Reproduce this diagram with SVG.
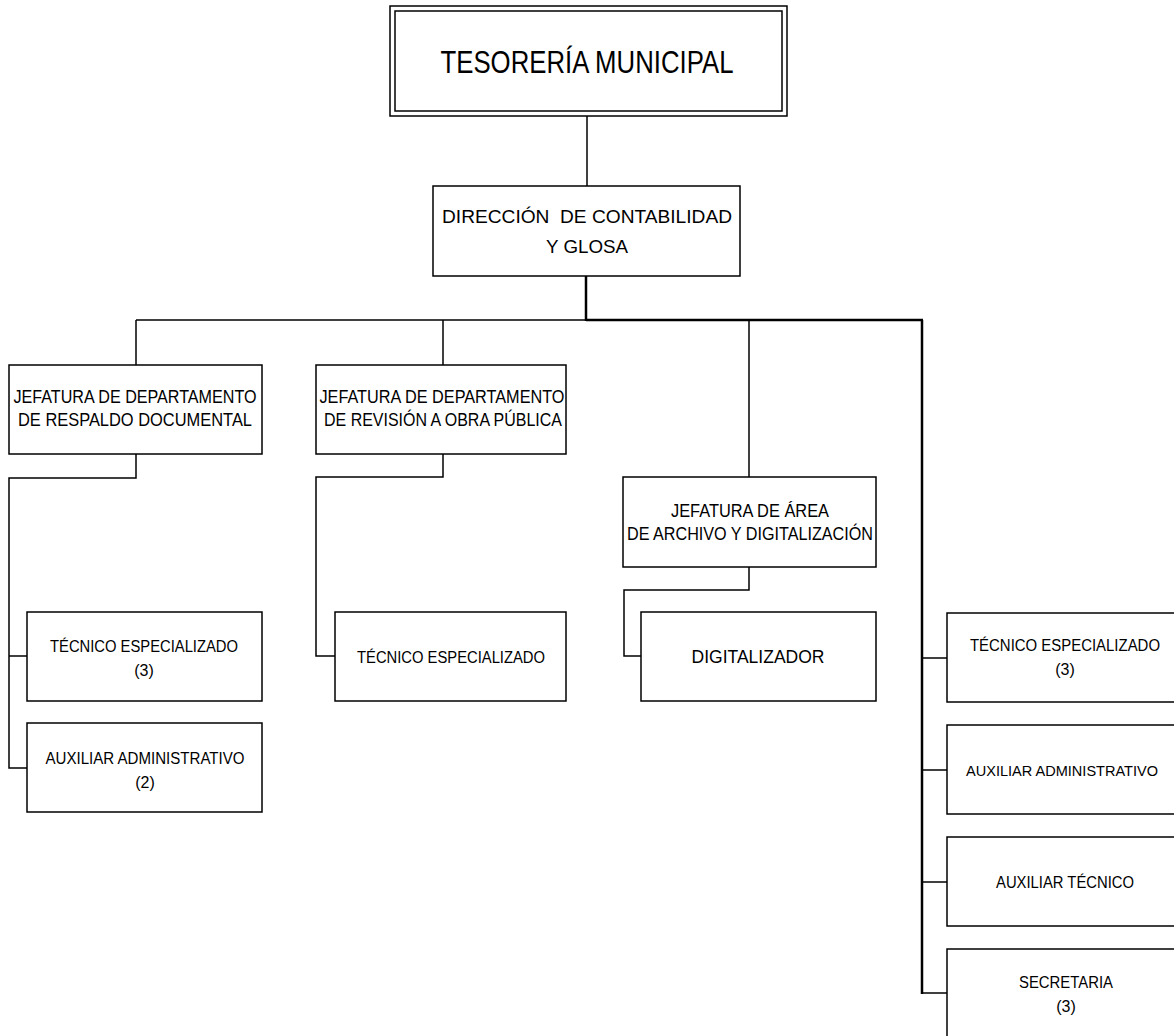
<svg xmlns="http://www.w3.org/2000/svg" width="1174" height="1036" viewBox="0 0 1174 1036">
  <style>
    .box { fill: #ffffff; stroke: #000000; stroke-width: 1.5; }
    .ln { fill: none; stroke: #000000; stroke-width: 1.5; }
    .lnb { fill: none; stroke: #000000; stroke-width: 2.5; }
    text { font-family: "Liberation Sans", Arial, sans-serif; fill: #000000; text-anchor: middle; }
    .t1 { font-size: 32px; }
    .t2 { font-size: 19px; }
    .t3 { font-size: 18px; }
    .t4 { font-size: 16px; }
  </style>

  <rect width="1174" height="1036" fill="#ffffff"/>

  <!-- connectors -->
  <g id="connectors">
    <line class="ln" x1="587" y1="116" x2="587" y2="186"/>
    <line class="lnb" x1="586" y1="276" x2="586" y2="321"/>
    <line class="ln" x1="136" y1="320" x2="586" y2="320"/>
    <line class="lnb" x1="586" y1="320" x2="923" y2="320"/>
    <line class="ln" x1="136" y1="320" x2="136" y2="365"/>
    <line class="ln" x1="443" y1="320" x2="443" y2="365"/>
    <line class="ln" x1="749" y1="320" x2="749" y2="477"/>
    <line class="lnb" x1="922" y1="320" x2="922" y2="994"/>
    <!-- respaldo documental -->
    <polyline class="ln" points="136,454 136,478 9,478 9,768 27,768"/>
    <line class="ln" x1="9" y1="656" x2="27" y2="656"/>
    <!-- revisión a obra pública -->
    <polyline class="ln" points="443,454 443,477 316,477 316,656 335,656"/>
    <!-- archivo y digitalización -->
    <polyline class="ln" points="749,567 749,590 624,590 624,656 641,656"/>
    <!-- direct staff -->
    <line class="ln" x1="922" y1="658" x2="947" y2="658"/>
    <line class="ln" x1="922" y1="770" x2="947" y2="770"/>
    <line class="ln" x1="922" y1="882" x2="947" y2="882"/>
    <line class="ln" x1="922" y1="993" x2="947" y2="993"/>
  </g>

  <g id="tesoreria">
    <rect class="box" x="390" y="6" width="397" height="110"/>
    <rect class="box" x="395" y="11" width="387" height="100"/>
    <text class="t1" x="587" y="73" textLength="293" lengthAdjust="spacingAndGlyphs">TESORERÍA MUNICIPAL</text>
  </g>

  <g id="direccion">
    <rect class="box" x="433" y="186" width="307" height="90"/>
    <text class="t2" x="587" y="223" textLength="290" lengthAdjust="spacingAndGlyphs" xml:space="preserve">DIRECCIÓN  DE CONTABILIDAD</text>
    <text class="t2" x="587" y="253" textLength="82" lengthAdjust="spacingAndGlyphs">Y GLOSA</text>
  </g>

  <g id="respaldo">
    <rect class="box" x="9" y="365" width="253" height="89"/>
    <text class="t3" x="135" y="403" textLength="243" lengthAdjust="spacingAndGlyphs">JEFATURA DE DEPARTAMENTO</text>
    <text class="t3" x="135" y="426" textLength="234" lengthAdjust="spacingAndGlyphs">DE RESPALDO DOCUMENTAL</text>
  </g>

  <g id="revision">
    <rect class="box" x="316" y="365" width="250" height="89"/>
    <text class="t3" x="442" y="403" textLength="245" lengthAdjust="spacingAndGlyphs">JEFATURA DE DEPARTAMENTO</text>
    <text class="t3" x="443" y="426" textLength="238" lengthAdjust="spacingAndGlyphs">DE REVISIÓN A OBRA PÚBLICA</text>
  </g>

  <g id="archivo">
    <rect class="box" x="623" y="477" width="253" height="90"/>
    <text class="t3" x="750" y="517" textLength="158" lengthAdjust="spacingAndGlyphs">JEFATURA DE ÁREA</text>
    <text class="t3" x="750" y="540" textLength="246" lengthAdjust="spacingAndGlyphs">DE ARCHIVO Y DIGITALIZACIÓN</text>
  </g>

  <g id="tecnico-respaldo">
    <rect class="box" x="27" y="612" width="235" height="89"/>
    <text class="t4" x="144" y="652" textLength="188" lengthAdjust="spacingAndGlyphs">TÉCNICO ESPECIALIZADO</text>
    <text class="t4" x="144" y="676">(3)</text>
  </g>

  <g id="auxiliar-respaldo">
    <rect class="box" x="27" y="723" width="235" height="89"/>
    <text class="t4" x="145" y="764" textLength="199" lengthAdjust="spacingAndGlyphs">AUXILIAR ADMINISTRATIVO</text>
    <text class="t4" x="145" y="788">(2)</text>
  </g>

  <g id="tecnico-revision">
    <rect class="box" x="335" y="612" width="231" height="89"/>
    <text class="t4" x="451" y="663" textLength="188" lengthAdjust="spacingAndGlyphs">TÉCNICO ESPECIALIZADO</text>
  </g>

  <g id="digitalizador">
    <rect class="box" x="641" y="612" width="235" height="89"/>
    <text class="t3" x="758" y="663" textLength="133" lengthAdjust="spacingAndGlyphs">DIGITALIZADOR</text>
  </g>

  <g id="tecnico-direccion">
    <rect class="box" x="947" y="613" width="240" height="89"/>
    <text class="t4" x="1065" y="651" textLength="190" lengthAdjust="spacingAndGlyphs">TÉCNICO ESPECIALIZADO</text>
    <text class="t4" x="1065" y="675">(3)</text>
  </g>

  <g id="auxiliar-administrativo">
    <rect class="box" x="947" y="725" width="240" height="89"/>
    <text x="1062" y="776" font-size="15" textLength="192" lengthAdjust="spacingAndGlyphs">AUXILIAR ADMINISTRATIVO</text>
  </g>

  <g id="auxiliar-tecnico">
    <rect class="box" x="947" y="837" width="240" height="89"/>
    <text class="t4" x="1065" y="888" textLength="138" lengthAdjust="spacingAndGlyphs">AUXILIAR TÉCNICO</text>
  </g>

  <g id="secretaria">
    <rect class="box" x="947" y="949" width="240" height="89"/>
    <text class="t4" x="1066" y="988" textLength="94" lengthAdjust="spacingAndGlyphs">SECRETARIA</text>
    <text class="t4" x="1066" y="1012">(3)</text>
  </g>
</svg>
